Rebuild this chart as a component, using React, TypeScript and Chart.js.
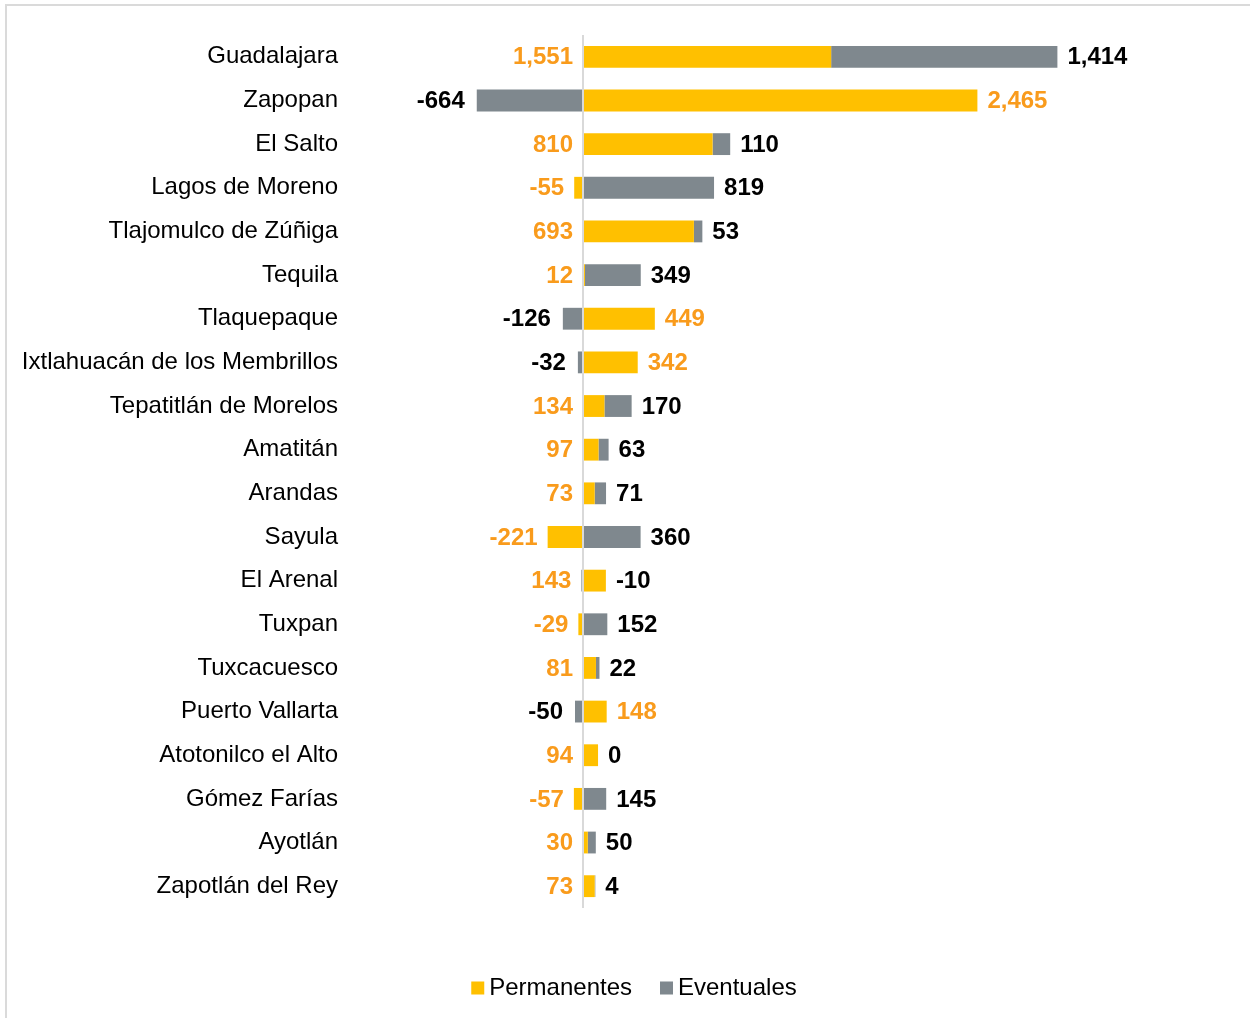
import React, { useEffect, useRef } from 'react';
import { Chart, registerables } from 'chart.js';

Chart.register(...registerables);

const categories = [
  'Guadalajara',
  'Zapopan',
  'El Salto',
  'Lagos de Moreno',
  'Tlajomulco de Zúñiga',
  'Tequila',
  'Tlaquepaque',
  'Ixtlahuacán de los Membrillos',
  'Tepatitlán de Morelos',
  'Amatitán',
  'Arandas',
  'Sayula',
  'El Arenal',
  'Tuxpan',
  'Tuxcacuesco',
  'Puerto Vallarta',
  'Atotonilco el Alto',
  'Gómez Farías',
  'Ayotlán',
  'Zapotlán del Rey',
];
const permanentes = [1551, 2465, 810, -55, 693, 12, 449, 342, 134, 97, 73, -221, 143, -29, 81, 148, 94, -57, 30, 73];
const eventuales = [1414, -664, 110, 819, 53, 349, -126, -32, 170, 63, 71, 360, -10, 152, 22, -50, 0, 145, 50, 4];
const seriesNames = ['Permanentes', 'Eventuales'];

const YELLOW = '#FFC000';
const GRAY = '#7F888E';
const ORANGE = '#F99B1C';
const FONT = '"Liberation Sans", Arial, sans-serif';

const fmt = (v: number) => v.toLocaleString('en-US');

const valueLabels = {
  id: 'valueLabels',
  afterDatasetsDraw(chart: any) {
    const { ctx } = chart;
    const x = chart.scales.x;
    const y = chart.scales.y;
    const p = chart.data.datasets[0].data as number[];
    const e = chart.data.datasets[1].data as number[];
    ctx.save();
    ctx.font = `bold 24px ${FONT}`;
    ctx.textBaseline = 'middle';
    for (let i = 0; i < p.length; i++) {
      const pv = p[i];
      const ev = e[i];
      const cy = y.getPixelForValue(i) + 1;
      const posEnd = x.getPixelForValue(Math.max(0, pv) + Math.max(0, ev));
      const negEnd = x.getPixelForValue(Math.min(0, pv) + Math.min(0, ev));
      const evLeft = ev < 0 && Math.abs(ev) >= 20;
      ctx.fillStyle = '#000000';
      if (evLeft) {
        ctx.textAlign = 'right';
        ctx.fillText(fmt(ev), negEnd - 12, cy);
      } else {
        ctx.textAlign = 'left';
        ctx.fillText(fmt(ev), posEnd + 10, cy);
      }
      ctx.fillStyle = ORANGE;
      if (evLeft) {
        ctx.textAlign = 'left';
        ctx.fillText(fmt(pv), posEnd + 10, cy);
      } else {
        ctx.textAlign = 'right';
        ctx.fillText(fmt(pv), negEnd - 10, cy);
      }
    }
    ctx.restore();
  },
};

const bottomLegend = {
  id: 'bottomLegend',
  afterDraw(chart: any) {
    const { ctx } = chart;
    ctx.save();
    ctx.font = `24px ${FONT}`;
    const box = 13;
    const gap = 5;
    const itemGap = 28;
    const items = chart.data.datasets.map((ds: any) => ({
      text: ds.label,
      color: ds.backgroundColor,
      w: ctx.measureText(ds.label).width,
    }));
    const total =
      items.reduce((s: number, it: any) => s + box + gap + it.w, 0) + itemGap * (items.length - 1);
    let xx = chart.width / 2 + 9 - total / 2;
    const cy = chart.chartArea.bottom + 80;
    ctx.textBaseline = 'middle';
    ctx.textAlign = 'left';
    items.forEach((it: any) => {
      ctx.fillStyle = it.color;
      ctx.fillRect(xx, cy - box / 2, box, box);
      xx += box + gap;
      ctx.fillStyle = '#000000';
      ctx.fillText(it.text, xx, cy);
      xx += it.w + itemGap;
    });
    ctx.restore();
  },
};

export default function App() {
  const canvasRef = useRef<HTMLCanvasElement | null>(null);

  useEffect(() => {
    if (!canvasRef.current) return;
    const chart = new Chart(canvasRef.current, {
      type: 'bar',
      data: {
        labels: categories,
        datasets: [
          {
            label: seriesNames[0],
            data: permanentes,
            backgroundColor: YELLOW,
            barPercentage: 0.5,
            categoryPercentage: 1,
          },
          {
            label: seriesNames[1],
            data: eventuales,
            backgroundColor: GRAY,
            barPercentage: 0.5,
            categoryPercentage: 1,
          },
        ],
      },
      options: {
        indexAxis: 'y',
        responsive: false,
        animation: false,
        layout: { padding: { top: 35, left: 0, right: 107, bottom: 0 } },
        plugins: {
          legend: { display: false },
          tooltip: { enabled: false },
          title: { display: false },
        },
        scales: {
          x: {
            stacked: true,
            min: -1500,
            max: 3500,
            ticks: { display: false, stepSize: 500 },
            grid: {
              drawTicks: false,
              lineWidth: 2,
              color: (c: any) => (c.tick && c.tick.value === 0 ? '#D9D9D9' : 'rgba(0,0,0,0)'),
            },
            border: { display: false },
            afterFit: (scale: any) => {
              scale.height = 110;
            },
          },
          y: {
            stacked: true,
            grid: { display: false, drawTicks: false },
            border: { display: false },
            ticks: {
              padding: 5,
              color: '#000000',
              font: { family: FONT, size: 24 },
              autoSkip: false,
            },
            afterFit: (scale: any) => {
              scale.width = 343;
            },
          },
        },
      },
      plugins: [valueLabels, bottomLegend],
    });
    return () => chart.destroy();
  }, []);

  return (
    <div
      style={{
        position: 'fixed',
        left: 0,
        top: 0,
        width: 1250,
        height: 1018,
        overflow: 'hidden',
        background: '#ffffff',
      }}
    >
      <div
        style={{
          position: 'absolute',
          left: 5,
          top: 4,
          width: 1245,
          height: 1014,
          borderLeft: '2px solid #DADADA',
          borderTop: '2px solid #DADADA',
          boxSizing: 'border-box',
        }}
      />
      <canvas
        ref={canvasRef}
        width={1250}
        height={1018}
        style={{ position: 'absolute', left: 0, top: 0 }}
      />
    </div>
  );
}
